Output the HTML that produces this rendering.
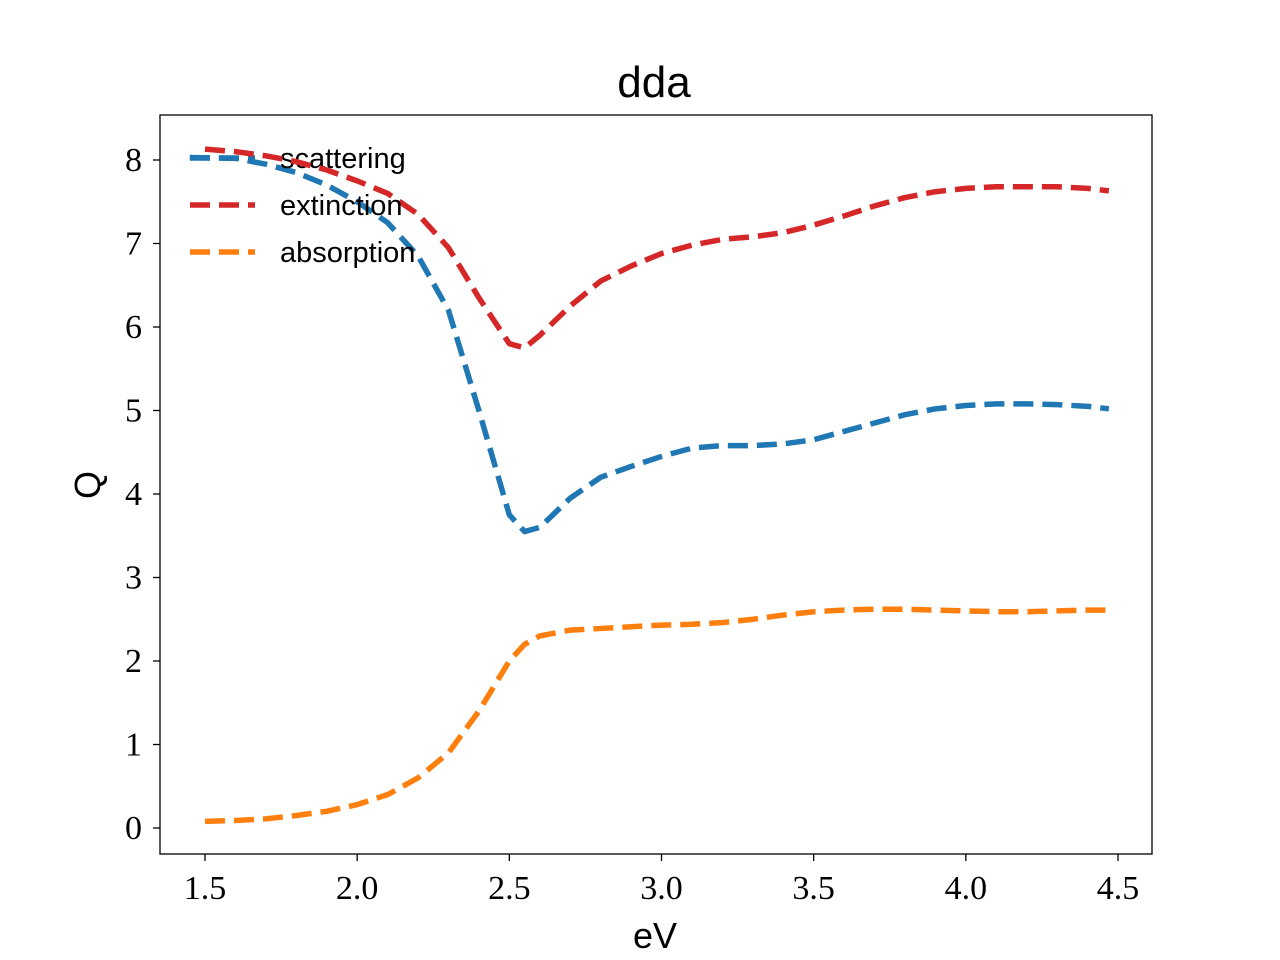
<!DOCTYPE html>
<html><head><meta charset="utf-8"><style>body{margin:0;background:#fff}svg{display:block}</style></head>
<body>
<svg id="chart" width="1280" height="960" xmlns="http://www.w3.org/2000/svg"></svg>
<script>
const xs=[1.5,1.6,1.7,1.8,1.9,2.0,2.1,2.2,2.3,2.4,2.5,2.55,2.6,2.7,2.8,2.9,3.0,3.1,3.2,3.3,3.4,3.5,3.6,3.7,3.8,3.9,4.0,4.1,4.2,4.3,4.4,4.47];
const scattering=[8.03,8.02,7.95,7.85,7.7,7.5,7.25,6.85,6.2,5.0,3.75,3.55,3.6,3.95,4.2,4.33,4.45,4.55,4.58,4.58,4.6,4.65,4.75,4.85,4.95,5.02,5.06,5.08,5.08,5.07,5.05,5.02];
const extinction=[8.13,8.1,8.05,7.98,7.88,7.75,7.6,7.35,6.95,6.35,5.8,5.75,5.9,6.25,6.55,6.73,6.88,6.98,7.05,7.08,7.13,7.22,7.33,7.45,7.55,7.62,7.66,7.68,7.68,7.68,7.66,7.63];
const absorption=[0.08,0.09,0.11,0.15,0.2,0.28,0.4,0.6,0.9,1.4,2.0,2.2,2.3,2.37,2.39,2.41,2.43,2.44,2.46,2.5,2.55,2.59,2.61,2.62,2.62,2.61,2.6,2.59,2.59,2.6,2.61,2.61];
const xTicks=[1.5,2.0,2.5,3.0,3.5,4.0,4.5];
const yTicks=[0,1,2,3,4,5,6,7,8];
const X=v=>205+(v-1.5)*(913/3);
const Y=v=>828-v*83.5;
const svg=document.getElementById('chart');
const NS='http://www.w3.org/2000/svg';
function mk(t,a,p){const e=document.createElementNS(NS,t);for(const k in a)e.setAttribute(k,a[k]);(p||svg).appendChild(e);return e;}
let r=mk('rect',{x:160,y:115,width:992,height:739,fill:'none',stroke:'#000','stroke-width':1.3});


xTicks.forEach(v=>{
  let l=mk('line',{x1:X(v),x2:X(v),y1:854,y2:861,stroke:'#000','stroke-width':1.3});
  
  
  let t=mk('text',{x:X(v),y:899,'text-anchor':'middle','font-family':'Liberation Serif, serif','font-size':34});
  t.textContent=v.toFixed(1);
  
  
});
yTicks.forEach(v=>{
  let l=mk('line',{x1:153,x2:160,y1:Y(v),y2:Y(v),stroke:'#000','stroke-width':1.3});
  
  
  let t=mk('text',{x:142,y:Y(v)+11,'text-anchor':'end','font-family':'Liberation Serif, serif','font-size':34});
  t.textContent=v;
  
  
});
const series=[[scattering,'#1f77b4','scattering',1.45],[extinction,'#d62728','extinction',1.5],[absorption,'#ff7f0e','absorption',1.5]];
series.forEach(([d,c,n,x0],i)=>{
  const pts=xs.map((x,j)=>X(j===0?x0:x)+','+Y(d[j])).join(' ');
  let p=mk('polyline',{points:pts,fill:'none',stroke:c,'stroke-width':5.5,'stroke-dasharray':'20,9','stroke-linejoin':'round'});
  
  
  let ly=158+i*47;
  let ll=mk('line',{x1:190,x2:255,y1:ly,y2:ly,stroke:c,'stroke-width':5.5,'stroke-dasharray':'20,9'});
  
  
  let lt=mk('text',{x:280,y:ly+10,'font-family':'Liberation Sans, sans-serif','font-size':29});
  lt.textContent=n;
  
  
});
let ti=mk('text',{x:654,y:97,'text-anchor':'middle','font-family':'Liberation Sans, sans-serif','font-size':44});
ti.textContent='dda';


let xl=mk('text',{x:655,y:948,'text-anchor':'middle','font-family':'Liberation Sans, sans-serif','font-size':36});
xl.textContent='eV';


let yl=mk('text',{x:0,y:0,'text-anchor':'middle','font-family':'Liberation Sans, sans-serif','font-size':36,transform:'translate(100,485) rotate(-90)'});
yl.textContent='Q';


</script>
</body></html>
